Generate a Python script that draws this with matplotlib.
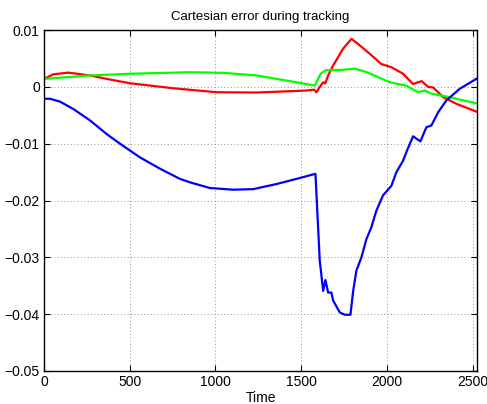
import matplotlib
matplotlib.use("Agg")
import matplotlib.pyplot as plt

plt.rcParams['font.family'] = ['Liberation Sans', 'DejaVu Sans']

blue_x = [0, 35, 93, 171, 268, 365, 443, 559, 676, 793, 851, 967, 1103, 1220, 1356, 1472, 1583,
          1608, 1628, 1641, 1657, 1676, 1686, 1725, 1754, 1787, 1803, 1822, 1851, 1880, 1909, 1938,
          1977, 2026, 2055, 2094, 2117, 2152, 2195, 2230, 2259, 2298, 2346, 2424, 2521]
blue_y = [-0.0021, -0.0021, -0.0026, -0.0039, -0.0059, -0.0083, -0.0100, -0.0124, -0.0144, -0.0162,
          -0.0168, -0.0178, -0.0181, -0.0180, -0.0171, -0.0162, -0.0153,
          -0.0306, -0.0359, -0.0340, -0.0362, -0.0362, -0.0376, -0.0397, -0.0401, -0.0401, -0.0359,
          -0.0323, -0.0300, -0.0268, -0.0247, -0.0218, -0.0191, -0.0174, -0.0150, -0.0130, -0.0112,
          -0.0087, -0.0096, -0.0071, -0.0068, -0.0045, -0.0024, -0.00035, 0.0014]

red_x = [0, 54, 142, 268, 365, 501, 754, 1006, 1240, 1531, 1575, 1589, 1608, 1628, 1640, 1657,
         1686, 1744, 1793, 1841, 1900, 1968, 2026, 2094, 2152, 2201, 2240, 2269, 2327, 2405, 2521]
red_y = [0.0014, 0.0022, 0.0025, 0.0020, 0.0014, 0.00063, -0.00025, -0.00095, -0.001, -0.00065,
         -0.0005, -0.00095, 0.0, 0.0008, 0.0006, 0.002, 0.00375, 0.0067, 0.00845, 0.0073,
         0.0058, 0.0040, 0.00345, 0.0023, 0.0005, 0.001, 0.0, -0.0001, -0.0018, -0.003, -0.00435]

green_x = [0, 268, 501, 851, 1045, 1240, 1434, 1579, 1614, 1640, 1744, 1812, 1880, 2016, 2113,
           2181, 2220, 2259, 2346, 2521]
green_y = [0.0014, 0.0020, 0.0023, 0.00257, 0.00246, 0.0020, 0.0010, 0.00023, 0.0023, 0.0029,
           0.003, 0.0032, 0.0026, 0.0008, 0.0002, -0.00095, -0.00065, -0.0012, -0.0017, -0.0029]

x_ticks = [0, 500, 1000, 1500, 2000, 2500]
y_ticks = [0.01, 0, -0.01, -0.02, -0.03, -0.04, -0.05]
y_tick_labels = ['0.01', '0', '\u22120.01', '\u22120.02', '\u22120.03', '\u22120.04', '\u22120.05']

fig = plt.figure(figsize=(4.87, 4.04), dpi=100)
ax = fig.add_axes([44/487, 33/404, 433/487, 341/404])

ax.plot(red_x, red_y, color=(1, 0, 0), lw=1.6)
ax.plot(green_x, green_y, color=(0, 1, 0), lw=1.6)
ax.plot(blue_x, blue_y, color=(0, 0, 1), lw=1.6)

ax.set_xlim(0, 2525)
ax.set_ylim(-0.05, 0.01)
ax.set_xticks(x_ticks)
ax.set_xticklabels([str(t) for t in x_ticks])
ax.set_yticks(y_ticks)
ax.set_yticklabels(y_tick_labels)
ax.tick_params(direction='in', top=True, right=True, length=4, width=0.8, labelsize=10, pad=3)
ax.grid(True, color='0.45', linestyle=(0, (1, 3)), linewidth=0.6)
for s in ax.spines.values():
    s.set_linewidth(1.0)
ax.set_title('Cartesian error during tracking', fontsize=9.5, pad=7)
ax.set_xlabel('Time', fontsize=10, labelpad=1)

fig.savefig('out.png', dpi=100)
